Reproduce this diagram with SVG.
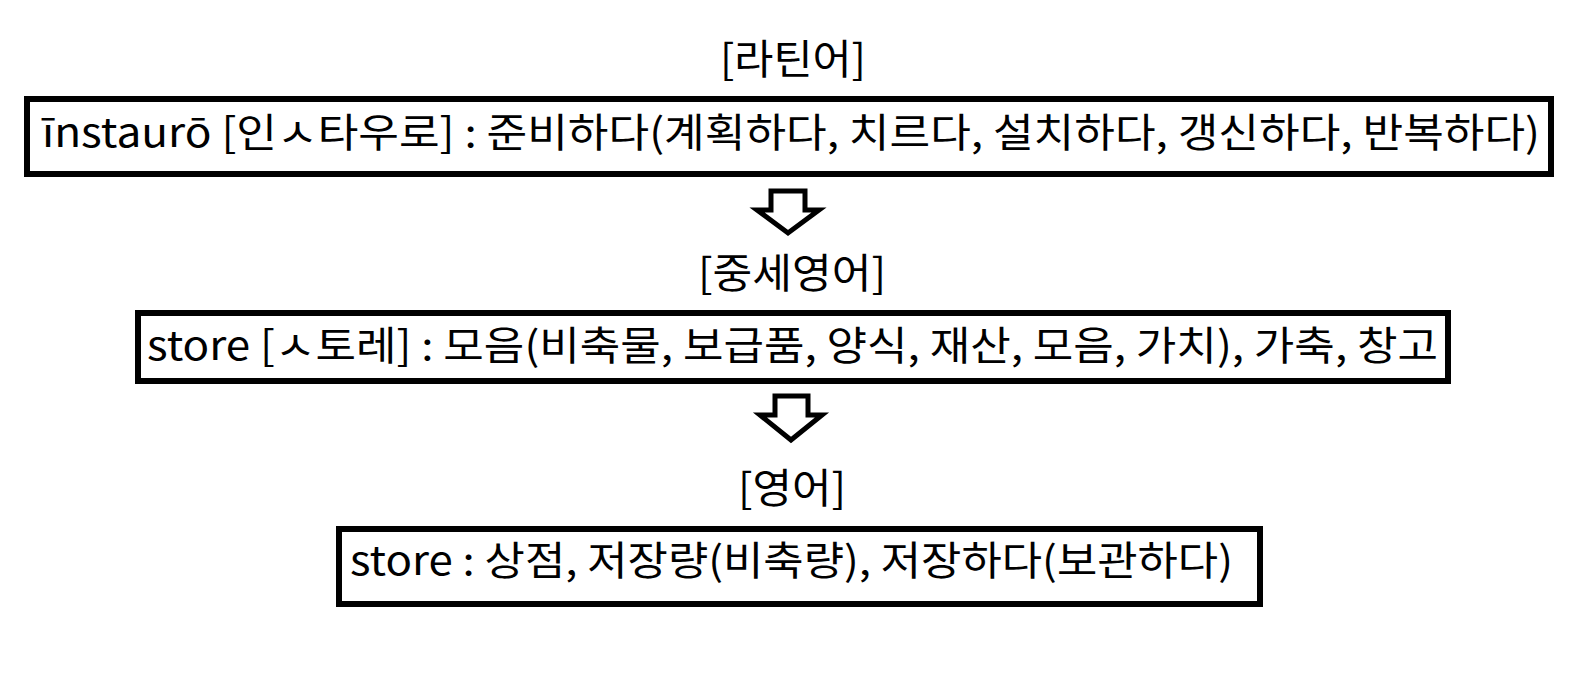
<svg xmlns="http://www.w3.org/2000/svg" width="1585" height="680" viewBox="0 0 1585 680">
<style>
.box{fill:#fff;stroke:#000;stroke-width:6}
.arrow{fill:#fff;stroke:#000;stroke-width:5;stroke-linejoin:miter}
.t{font-family:"Noto Sans CJK KR","Liberation Sans",sans-serif;font-size:40px;fill:#000}
.h{font-family:"Noto Sans CJK KR","Liberation Sans",sans-serif;font-size:41px;fill:#000;text-anchor:middle}
</style>
<rect width="1585" height="680" fill="#fff"/>
<g id="label-latin"><text class="h" x="793" y="74" textLength="146" lengthAdjust="spacingAndGlyphs">[라틴어]</text></g>
<g id="node-latin">
<rect class="box" x="27" y="99" width="1524" height="75"/>
<text class="t" x="42" y="147" textLength="1498" lengthAdjust="spacingAndGlyphs">īnstaurō [인ㅅ타우로] : 준비하다(계획하다, 치르다, 설치하다, 갱신하다, 반복하다)</text>
</g>
<g id="label-middle"><text class="h" x="792" y="288" textLength="188" lengthAdjust="spacingAndGlyphs">[중세영어]</text></g>
<g id="node-middle">
<rect class="box" x="138" y="313" width="1310" height="68"/>
<text class="t" x="147" y="360" textLength="1291" lengthAdjust="spacingAndGlyphs">store [ㅅ토레] : 모음(비축물, 보급품, 양식, 재산, 모음, 가치), 가축, 창고</text>
</g>
<g id="label-english"><text class="h" x="792" y="503" textLength="108" lengthAdjust="spacingAndGlyphs">[영어]</text></g>
<g id="node-english">
<rect class="box" x="339" y="529" width="921" height="75"/>
<text class="t" x="350" y="575" textLength="883" lengthAdjust="spacingAndGlyphs">store : 상점, 저장량(비축량), 저장하다(보관하다)</text>
</g>
<g id="connectors">
<path class="arrow" d="M771 191 H805 V210 H819 L788 233 L757 210 H771 Z"/>
<path class="arrow" d="M775 396 H808 V415 H822 L791 440 L760 415 H775 Z"/>
</g>
</svg>
